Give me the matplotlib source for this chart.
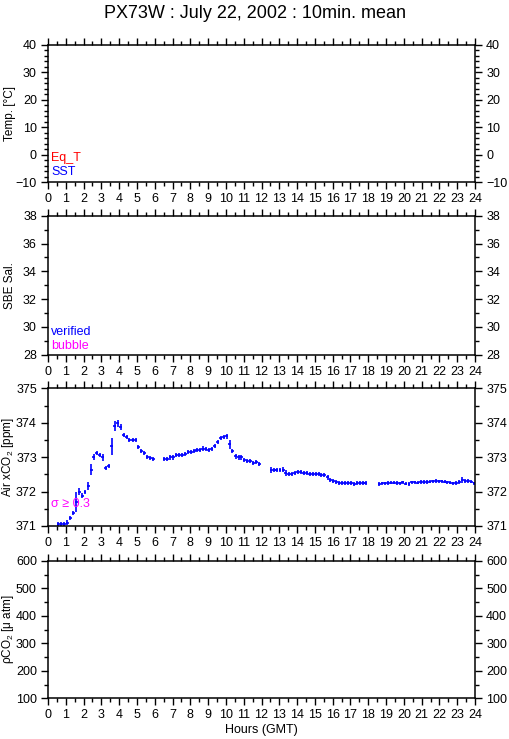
import matplotlib
matplotlib.use("Agg")
import matplotlib.pyplot as plt
from matplotlib.ticker import MultipleLocator
import numpy as np

plt.rcParams['font.family'] = ['Liberation Sans', 'DejaVu Sans']
plt.rcParams['mathtext.fontset'] = 'custom'
plt.rcParams['mathtext.rm'] = 'Liberation Sans'
plt.rcParams['mathtext.it'] = 'Liberation Sans:italic'

# ---- data: Air xCO2 10-min means (hours GMT, ppm, std) ----
air_hours = [
    0.58, 0.75, 0.92, 1.08, 1.25, 1.42, 1.58, 1.75, 1.92, 2.08, 2.25, 2.42, 2.58, 2.75,
    2.92, 3.08, 3.25, 3.42, 3.58, 3.75, 3.92, 4.08, 4.25, 4.42, 4.58, 4.75, 4.92, 5.08,
    5.25, 5.42, 5.58, 5.75, 5.92,
    6.54, 6.71, 6.87, 7.04, 7.21, 7.37, 7.54, 7.71, 7.87, 8.04, 8.21, 8.37, 8.54, 8.71,
    8.87, 9.04, 9.21, 9.37, 9.54, 9.71, 9.87, 10.04, 10.21, 10.37, 10.54, 10.71, 10.87,
    11.04, 11.21, 11.37, 11.54, 11.71, 11.87,
    12.54, 12.71, 12.87, 13.04, 13.21, 13.37, 13.54, 13.71, 13.87, 14.04, 14.21, 14.37,
    14.54, 14.71, 14.87, 15.04, 15.21, 15.37, 15.54, 15.71, 15.87, 16.04, 16.21, 16.37,
    16.54, 16.71, 16.87, 17.04, 17.21, 17.37, 17.54, 17.71, 17.87,
    18.62, 18.79, 18.95, 19.12, 19.29, 19.45, 19.62, 19.79, 19.95, 20.12, 20.29, 20.45,
    20.62, 20.79, 20.95, 21.12, 21.29, 21.45, 21.62, 21.79, 21.95, 22.12, 22.29, 22.45,
    22.62, 22.79, 22.95, 23.12, 23.29, 23.45, 23.62, 23.79, 23.95,
]
air_xco2 = [
    371.06, 371.05, 371.05, 371.10, 371.24, 371.37, 371.70, 371.99, 371.88, 371.98,
    372.16, 372.63, 373.01, 373.11, 373.06, 372.99, 372.68, 372.74, 373.32, 373.90,
    373.98, 373.88, 373.64, 373.59, 373.49, 373.49, 373.49, 373.30, 373.19, 373.13,
    373.01, 372.97, 372.95,
    372.94, 372.94, 372.99, 372.99, 373.05, 373.05, 373.07, 373.09, 373.15, 373.15,
    373.18, 373.21, 373.22, 373.25, 373.23, 373.20, 373.23, 373.32, 373.45, 373.55,
    373.58, 373.61, 373.37, 373.18, 373.02, 372.99, 372.99, 372.92, 372.89, 372.89,
    372.84, 372.86, 372.80,
    372.62, 372.62, 372.62, 372.63, 372.64, 372.54, 372.52, 372.52, 372.53, 372.56,
    372.56, 372.55, 372.53, 372.52, 372.52, 372.52, 372.50, 372.47, 372.47, 372.41,
    372.34, 372.30, 372.27, 372.24, 372.24, 372.24, 372.24, 372.24, 372.21, 372.24,
    372.24, 372.25, 372.26,
    372.21, 372.24, 372.24, 372.25, 372.26, 372.26, 372.25, 372.24, 372.27, 372.23,
    372.21, 372.27, 372.27, 372.26, 372.28, 372.28, 372.28, 372.29, 372.30, 372.31,
    372.30, 372.30, 372.29, 372.27, 372.26, 372.24, 372.25, 372.28, 372.33, 372.31,
    372.31, 372.29, 372.24,
]
air_std = [
    0.06, 0.06, 0.06, 0.06, 0.06, 0.06, 0.29, 0.10, 0.07, 0.06, 0.12, 0.16, 0.08, 0.06,
    0.06, 0.10, 0.06, 0.06, 0.25, 0.15, 0.10, 0.08, 0.06, 0.06, 0.06, 0.06, 0.06, 0.06,
    0.06, 0.06, 0.06, 0.06, 0.06,
    0.06, 0.06, 0.06, 0.06, 0.06, 0.06, 0.06, 0.06, 0.06, 0.06, 0.06, 0.06, 0.06, 0.06,
    0.06, 0.06, 0.06, 0.06, 0.06, 0.06, 0.06, 0.07, 0.12, 0.07, 0.08, 0.06, 0.06, 0.06,
    0.06, 0.07, 0.06, 0.07, 0.06,
    0.08, 0.06, 0.06, 0.06, 0.06, 0.08, 0.06, 0.06, 0.06, 0.06, 0.06, 0.06, 0.06, 0.06,
    0.06, 0.06, 0.06, 0.06, 0.06, 0.06, 0.06, 0.06, 0.06, 0.06, 0.06, 0.06, 0.06, 0.06,
    0.06, 0.06, 0.06, 0.06, 0.06,
    0.06, 0.05, 0.05, 0.05, 0.05, 0.05, 0.05, 0.05, 0.05, 0.05, 0.06, 0.05, 0.05, 0.05,
    0.05, 0.05, 0.05, 0.05, 0.05, 0.05, 0.05, 0.05, 0.05, 0.05, 0.05, 0.05, 0.05, 0.05,
    0.08, 0.05, 0.05, 0.05, 0.05,
]
half_interval = 1.0 / 12.0  # +/- 5 min

title = "PX73W : July 22, 2002 : 10min. mean"
hour_ticks = list(range(0, 25))

W, H = 509, 739
fig = plt.figure(figsize=(W / 100, H / 100), dpi=100)

panels_px = [(44.7, 182.3), (215.7, 354.7), (388.3, 526.0), (560.8, 698.3)]
left_px, right_px = 48, 475

ylims = [(-10, 40), (28, 38), (371, 375), (100, 600)]
ymaj = [10, 2, 1, 100]
ymin = [2, 1, 0.5, 50]
ylabels = ["Temp. [°C]", "SBE Sal.", "Air xCO$_2$ [ppm]", "ρCO$_2$ [μ atm]"]

axes = []
for i, (top, bot) in enumerate(panels_px):
    ax = fig.add_axes([left_px / W, 1 - bot / H, (right_px - left_px) / W, (bot - top) / H])
    ax.set_xlim(0, 24)
    ax.set_ylim(*ylims[i])
    ax.xaxis.set_major_locator(MultipleLocator(1))
    ax.xaxis.set_minor_locator(MultipleLocator(0.5))
    ax.yaxis.set_major_locator(MultipleLocator(ymaj[i]))
    ax.yaxis.set_minor_locator(MultipleLocator(ymin[i]))
    ax.set_xticks(hour_ticks)
    ax.set_xticklabels([str(h) for h in hour_ticks])
    ax.tick_params(which='both', direction='out', top=True, right=True,
                   labelright=True, labeltop=False, width=1.0, labelsize=9, colors='black')
    ax.tick_params(which='major', length=5, pad=3)
    ax.tick_params(which='minor', length=3)
    for s in ax.spines.values():
        s.set_linewidth(1.1)
    ax.set_ylabel(ylabels[i], fontsize=8.5)
    ax.yaxis.set_label_coords(-0.075, 0.5)
    axes.append(ax)

# Panel 1 legend texts
axes[0].text(0.007, 0.175, "Eq_T", color='#ff0000', fontsize=9, transform=axes[0].transAxes, va='center')
axes[0].text(0.007, 0.075, "SST", color='#0000ff', fontsize=9, transform=axes[0].transAxes, va='center')
# Panel 2 legend texts
axes[1].text(0.007, 0.165, "verified", color='#0000ff', fontsize=9, transform=axes[1].transAxes, va='center')
axes[1].text(0.007, 0.065, "bubble", color='#ff00ff', fontsize=9, transform=axes[1].transAxes, va='center')
# Panel 3 data
axes[2].errorbar(air_hours, air_xco2, yerr=air_std, xerr=half_interval, fmt='none',
                 ecolor='#0000ff', elinewidth=1.2, capsize=0)
axes[2].text(0.007, 0.16, "σ ≥ 0.3", color='#ff00ff', fontsize=9, transform=axes[2].transAxes, va='center')

axes[3].set_xlabel("Hours (GMT)", fontsize=9, labelpad=2)

fig.text(0.5, 1 - 13 / H, title, ha='center', va='center', fontsize=13)

fig.savefig("out.png", dpi=100)
